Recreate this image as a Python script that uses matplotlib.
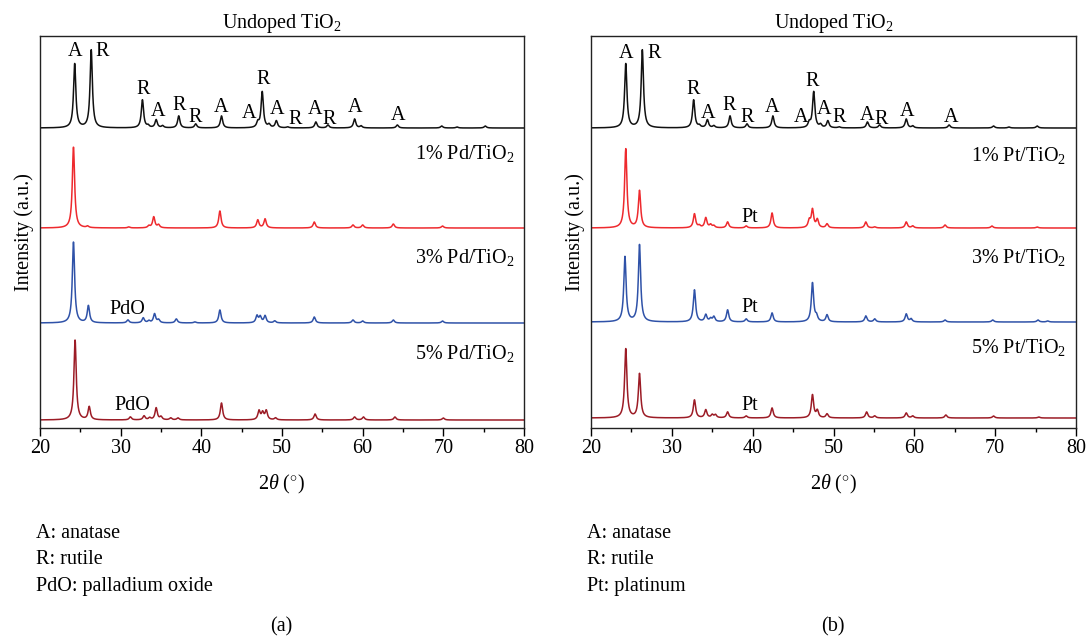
import numpy as np
import matplotlib
matplotlib.use("Agg")
import matplotlib.pyplot as plt

plt.rcParams['font.family'] = ['Liberation Serif', 'DejaVu Serif']
plt.rcParams['mathtext.fontset'] = 'custom'
plt.rcParams['mathtext.rm'] = 'Liberation Serif'
plt.rcParams['mathtext.it'] = 'Liberation Serif:italic'

# ---------------- data (peak position [deg 2theta], peak height [a.u.]) ----------------
undoped_pos = [24.3, 26.35, 32.7, 33.4, 34.4, 35.2, 37.2, 39.3, 42.5, 47.0, 47.55, 48.4, 49.3,
               50.7, 54.2, 55.7, 59.0, 59.8, 64.3, 69.8, 71.7, 75.2]
undoped_h = [64, 78, 28, 2, 8, 2, 12, 4, 12, 5, 36, 3, 7, 1, 6, 3, 9, 2, 3, 2, 1, 2]

pd1_pos = [24.15, 25.9, 31.0, 33.5, 34.1, 34.7, 42.3, 47.0, 47.9, 54.0, 58.8, 60.0, 63.8, 69.9]
pd1_h = [81, 1.5, 1, 2, 11, 3, 17, 8, 9, 6, 3, 3, 4, 2]

pd3_pos = [24.15, 26.0, 30.9, 32.8, 33.5, 34.2, 34.7, 36.9, 39.2, 42.3, 46.9, 47.3, 47.9, 49.1,
           54.0, 58.8, 60.0, 63.8, 69.9]
pd3_h = [81, 17, 3, 5, 2, 9, 3, 4, 1, 13, 7, 6, 7, 2, 6, 3, 2, 3, 2]

pd5_pos = [24.35, 26.1, 31.2, 32.9, 33.6, 34.4, 35.0, 36.2, 37.1, 42.5, 47.15, 47.6, 48.05, 49.2,
           54.1, 59.0, 60.1, 64.0, 70.0]
pd5_h = [80, 13, 3, 4, 2, 12, 3, 2, 2, 17, 9, 7, 9, 2, 6, 3, 3, 3, 2]

pt1_pos = [24.3, 26.0, 32.8, 33.4, 34.2, 34.8, 35.2, 36.9, 39.2, 42.4, 47.0, 47.4, 48.0, 49.2,
           54.0, 55.1, 59.0, 59.8, 63.8, 69.6, 75.2]
pt1_h = [79, 37, 14, 2, 10, 3, 2, 6, 2, 15, 7, 18, 8, 4, 6, 1, 6, 2, 3, 2, 1]

pt3_pos = [24.2, 26.0, 32.8, 34.2, 34.8, 35.2, 36.9, 39.2, 42.4, 47.4, 47.9, 49.2, 54.0, 55.1,
           59.0, 59.6, 63.8, 69.7, 75.3, 76.5]
pt3_h = [65, 77, 32, 7, 3, 5, 12, 3, 9, 39, 5, 7, 6, 3, 8, 3, 2, 2, 2, 1]

pt5_pos = [24.3, 26.0, 32.8, 34.2, 35.0, 35.4, 36.9, 39.2, 42.4, 47.4, 48.0, 49.2, 54.1, 55.1,
           59.0, 59.8, 63.9, 69.8, 75.4]
pt5_h = [69, 44, 18, 8, 3, 3, 6, 2, 10, 23, 7, 4, 6, 2, 5, 2, 3, 2, 1]

# vertical offsets of each pattern's baseline
offsets_a = [300, 200, 105, 8]
offsets_b = [300, 200, 106, 10]

# peak labels on undoped pattern: (label, x, y)
lab_text = ['A', 'R', 'R', 'A', 'R', 'R', 'A', 'A', 'R', 'A', 'R', 'A', 'R', 'A', 'A']
lab_x_a = [24.4, 27.7, 32.8, 34.6, 37.2, 39.3, 42.4, 45.9, 47.7, 49.4, 51.6, 54.1, 55.9, 59.0, 64.4]
lab_y_a = [376, 376, 339, 317, 323, 311, 321, 315, 348, 319, 309, 318, 309, 320, 312]
lab_x_b = [24.3, 27.8, 32.6, 34.5, 37.1, 39.3, 42.4, 46.0, 47.4, 48.8, 50.7, 54.2, 55.9, 59.1, 64.6]
lab_y_b = [375, 375, 338, 315, 322, 311, 320, 310, 347, 318, 311, 313, 309, 317, 310]

names_a = ['Undoped TiO$_2$', '1% Pd/TiO$_2$', '3% Pd/TiO$_2$', '5% Pd/TiO$_2$']
names_b = ['Undoped TiO$_2$', '1% Pt/TiO$_2$', '3% Pt/TiO$_2$', '5% Pt/TiO$_2$']
name_y_a = [412, 274, 170, 75]
name_y_b = [412, 272, 170, 81]

phase_a = ['PdO', 'PdO']
phase_a_x = [30.8, 31.5]
phase_a_y = [118, 23]
phase_b = ['Pt', 'Pt', 'Pt']
phase_b_x = [39.6, 39.6, 39.7]
phase_b_y = [210, 120, 22]

legend_a = ['A: anatase', 'R: rutile', 'PdO: palladium oxide']
legend_b = ['A: anatase', 'R: rutile', 'Pt: platinum']

colors = ['#111111', '#ee2a2e', '#2f52a8', '#9c1c26']

x = np.linspace(20, 80, 3000)


def pattern(pos, h, base):
    y = np.full_like(x, float(base))
    w = 0.17
    for p, hh in zip(pos, h):
        y += hh * (w ** 2) / ((x - p) ** 2 + w ** 2)
    return y


fig = plt.figure(figsize=(10.89, 6.44), dpi=100)
W, H = 1089, 644
ax_a = fig.add_axes([40 / W, (H - 428) / H, 484 / W, 392 / H])
ax_b = fig.add_axes([591 / W, (H - 428) / H, 485 / W, 392 / H])

panels = [
    (ax_a, [(undoped_pos, undoped_h), (pd1_pos, pd1_h), (pd3_pos, pd3_h), (pd5_pos, pd5_h)],
     offsets_a, lab_x_a, lab_y_a, names_a, name_y_a, phase_a, phase_a_x, phase_a_y, legend_a, '(a)'),
    (ax_b, [(undoped_pos, undoped_h), (pt1_pos, pt1_h), (pt3_pos, pt3_h), (pt5_pos, pt5_h)],
     offsets_b, lab_x_b, lab_y_b, names_b, name_y_b, phase_b, phase_b_x, phase_b_y, legend_b, '(b)'),
]

fs = 14.5
for (ax, series, offs, lx, ly, names, ny, ph, phx, phy, leg, tag) in panels:
    for (pos, h), off, c in zip(series, offs, colors):
        ax.plot(x, pattern(pos, h, off), color=c, lw=1.1)
    ax.set_xlim(20, 80)
    ax.set_ylim(0, 392)
    ax.set_yticks([])
    ax.set_xticks([20, 30, 40, 50, 60, 70, 80])
    ax.set_xticks(np.arange(25, 80, 10), minor=True)
    ax.tick_params(axis='x', which='major', direction='out', length=6, width=1, labelsize=fs, pad=2)
    ax.tick_params(axis='x', which='minor', direction='out', length=3, width=1)
    for s in ax.spines.values():
        s.set_linewidth(1.0)
        s.set_color('#222222')
    ax.set_xlabel(r'$2\mathit{\theta}$ ($^{\circ}$)', fontsize=fs, labelpad=11)
    ax.set_ylabel('Intensity (a.u.)', fontsize=fs, labelpad=4)
    ax.set_title(names[0], fontsize=fs, pad=6)
    for t, xx, yy in zip(lab_text, lx, ly):
        ax.text(xx, yy, t, fontsize=fs, ha='center', va='center')
    for nm, yy in zip(names[1:], ny[1:]):
        ax.text(78.8, yy, nm, fontsize=fs, ha='right', va='center')
    for t, xx, yy in zip(ph, phx, phy):
        ax.text(xx, yy, t, fontsize=fs, ha='center', va='center')
    bb = ax.get_position()
    for i, t in enumerate(leg):
        fig.text(bb.x0 - 4 / W, 1 - (533 + 27 * i) / H, t, fontsize=fs, ha='left', va='center')
    fig.text(bb.x0 + bb.width / 2 - 1 / W, 1 - 627 / H, tag, fontsize=fs, ha='center', va='center')

fig.savefig('out.png', dpi=100)
